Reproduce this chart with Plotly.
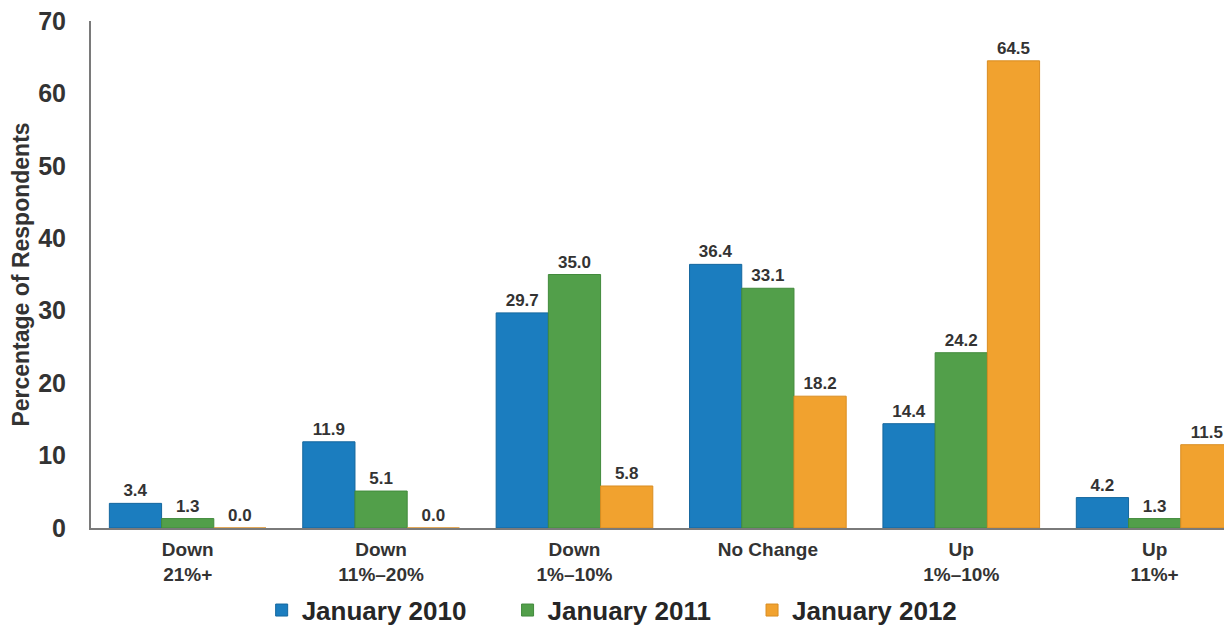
import plotly.graph_objects as go

categories = ["Down<br>21%+", "Down<br>11%–20%", "Down<br>1%–10%", "No Change", "Up<br>1%–10%", "Up<br>11%+"]
series_names = ["January 2010", "January 2011", "January 2012"]
jan_2010 = [3.4, 11.9, 29.7, 36.4, 14.4, 4.2]
jan_2011 = [1.3, 5.1, 35.0, 33.1, 24.2, 1.3]
jan_2012 = [0.0, 0.0, 5.8, 18.2, 64.5, 11.5]
y_ticks = [0, 10, 20, 30, 40, 50, 60, 70]

colors = ["#1b7dbf", "#529f4a", "#f1a22f"]
lines = ["#15679e", "#428a3c", "#d98d22"]
FONT = "Liberation Sans, Arial, sans-serif"
PAD = "\u00a0" * 5

fig = go.Figure()
for name, vals, c, lc in zip(series_names, [jan_2010, jan_2011, jan_2012], colors, lines):
    fig.add_trace(go.Bar(
        x=categories, y=vals, name=name + PAD,
        marker=dict(color=c, line=dict(color=lc, width=1)),
        text=[f"{v:.1f}" for v in vals],
        textposition="outside",
        textfont=dict(family=FONT, size=17, color="#333333", weight="bold"),
        cliponaxis=False,
    ))

fig.update_layout(
    width=1232, height=633,
    margin=dict(l=83, r=8, t=13, b=113, autoexpand=False),
    paper_bgcolor="white", plot_bgcolor="white",
    barmode="group", bargap=0.19, bargroupgap=0,
    font=dict(family=FONT, color="#333333"),
    showlegend=True,
    legend=dict(
        orientation="h", x=0.505, xanchor="center", xref="container",
        y=-0.162, yanchor="middle",
        font=dict(family=FONT, size=26, color="#262626", weight="bold"),
        itemwidth=30, tracegroupgap=0,
    ),
    xaxis=dict(
        range=[-0.5, 5.4], automargin=False,
        showline=True, linecolor="#7a7a7a", linewidth=2,
        ticks="outside", ticklen=3, tickcolor="rgba(0,0,0,0)",
        tickfont=dict(family=FONT, size=19, color="#333333", weight="bold"),
        showgrid=False, zeroline=False, ticklabeloverflow="allow",
    ),
    yaxis=dict(
        range=[0, 70], tickvals=y_ticks, automargin=False,
        showline=True, linecolor="#7a7a7a", linewidth=2,
        ticks="outside", ticklen=18, tickcolor="rgba(0,0,0,0)",
        tickfont=dict(family=FONT, size=25, color="#333333", weight="bold"),
        showgrid=False, zeroline=False, ticklabeloverflow="allow",
        title=dict(text="Percentage of Respondents", standoff=6,
                   font=dict(family=FONT, size=23, color="#333333", weight="bold")),
    ),
)

fig.write_html("out.html")
